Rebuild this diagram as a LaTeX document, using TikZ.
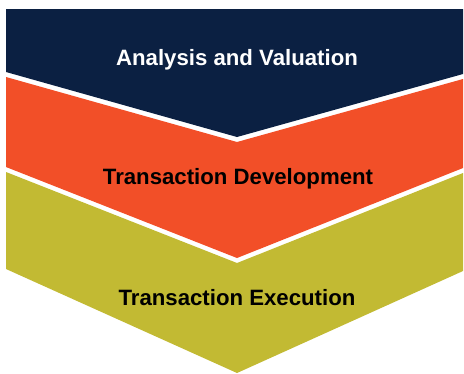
\documentclass[tikz,border=0pt]{standalone}
\usepackage{fontspec}
\setmainfont{Liberation Sans}
\usepackage{tikz}
\definecolor{navyband}{HTML}{0B2042}
\definecolor{orangeband}{HTML}{F24F28}
\definecolor{oliveband}{HTML}{C2BA33}

\begin{document}
\begin{tikzpicture}[x=1bp, y=-1bp,
    steplabel/.style={anchor=base, font=\fontsize{22.2bp}{26bp}\selectfont\bfseries}]
    \useasboundingbox (0,0) rectangle (464,373);

    \fill[color=navyband] (6,9) -- (463,9) -- (463,74) -- (237,137) -- (6,72) -- cycle;
    \fill[color=orangeband] (6,77) -- (237,142) -- (463,79) -- (463,168)
    -- (237,258) -- (6,167) -- cycle;
    \fill[color=oliveband] (6,172) -- (237,263) -- (463,173) -- (463,271)
    -- (237,373) -- (6,269) -- cycle;

    \node[steplabel, color=white] (analysis) at (237,65) {Analysis and Valuation};
    \node[steplabel, color=black] (development) at (238,184) {Transaction Development};
    \node[steplabel, color=black] (execution) at (237,305) {Transaction Execution};
\end{tikzpicture}
\end{document}
